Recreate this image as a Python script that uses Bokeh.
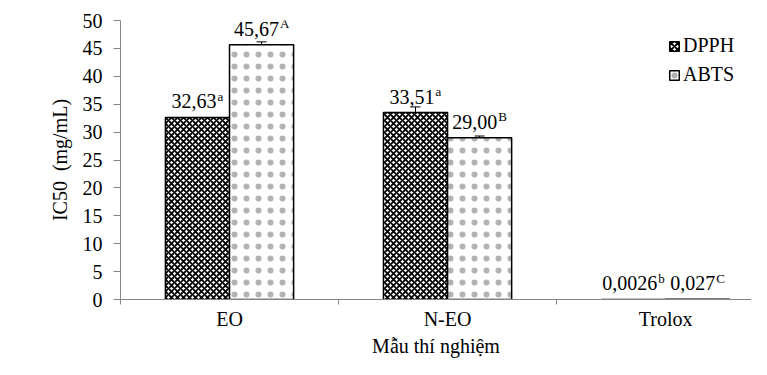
from bokeh.plotting import figure
from bokeh.models import (ColumnDataSource, Range1d, FixedTicker, Whisker, TeeHead,
                          Legend, LegendItem)
from bokeh.core.properties import value
from bokeh.embed import file_html
from bokeh.resources import INLINE

# ---------------- data ----------------
categories = ["EO", "N-EO", "Trolox"]
dpph = [32.63, 33.51, 0.0026]
abts = [45.67, 29.00, 0.027]
dpph_err = [0.0, 1.0, 0.0]
abts_err = [0.5, 0.3, 0.0]
dpph_labels = ["32,63", "33,51", "0,0026"]
dpph_sup = ["a", "a", "b"]
abts_labels = ["45,67", "29,00", "0,027"]
abts_sup = ["A", "B", "C"]
y_ticks = [0, 5, 10, 15, 20, 25, 30, 35, 40, 45, 50]
series_names = ["DPPH", "ABTS"]

FONT = "'Liberation Serif', 'Times New Roman', serif"
AXIS_COLOR = "#868686"

# ---------------- figure ----------------
p = figure(width=751, height=359, output_backend="svg", toolbar_location=None,
           x_range=Range1d(0, 2.894), y_range=Range1d(0, 50),
           min_border_left=120, min_border_right=0, min_border_top=20, min_border_bottom=57)
p.outline_line_color = None
p.xgrid.visible = False
p.ygrid.visible = False
p.background_fill_color = "white"

bw = 0.294
n = len(categories)
x_d = [i + 0.5 - bw / 2 for i in range(n)]
x_a = [i + 0.5 + bw / 2 for i in range(n)]

src_d = ColumnDataSource(dict(x=x_d, top=dpph))
src_a = ColumnDataSource(dict(x=x_a, top=abts))

r_d = p.vbar(x="x", top="top", width=bw, source=src_d, fill_color="white",
             line_color="black", line_width=1.5,
             hatch_pattern="diagonal_cross", hatch_scale=6, hatch_weight=1.9,
             hatch_color="black")
r_a = p.vbar(x="x", top="top", width=bw, source=src_a, fill_color="white",
             line_color="black", line_width=1.5,
             hatch_pattern="dot", hatch_scale=12, hatch_weight=1,
             hatch_color="black", hatch_alpha=0.3)

# error bars
for xs, vals, errs in ((x_d, dpph, dpph_err), (x_a, abts, abts_err)):
    ex = [xx for xx, e in zip(xs, errs) if e > 0]
    up = [v + e for v, e in zip(vals, errs) if e > 0]
    lo = [v - e for v, e in zip(vals, errs) if e > 0]
    es = ColumnDataSource(dict(base=ex, upper=up, lower=lo))
    w = Whisker(base="base", upper="upper", lower="lower", source=es, dimension="height",
                line_color="black", line_width=1,
                upper_head=TeeHead(size=10, line_color="black", line_width=1),
                lower_head=TeeHead(size=10, line_color="black", line_width=1))
    p.add_layout(w)

# data labels with superscripts
em = {",": 0.25, "a": 0.444, "b": 0.5, "A": 0.722, "B": 0.667, "C": 0.667}
def tw(s, size):
    return sum(em.get(c, 0.5) for c in s) * size

MAIN, SUP = 20, 13
for xs, vals, labs, sups in ((x_d, dpph, dpph_labels, dpph_sup), (x_a, abts, abts_labels, abts_sup)):
    mw = [tw(l, MAIN) for l in labs]
    sw = [tw(s, SUP) for s in sups]
    left = [-(m + s + 1) / 2 for m, s in zip(mw, sw)]
    ls = ColumnDataSource(dict(x=xs, y=vals, t=labs, s=sups, xo=left,
                               xs=[l + m + 1 for l, m in zip(left, mw)]))
    p.text(x="x", y="y", text="t", x_offset="xo", y_offset=-16, source=ls,
           text_align="left", text_baseline="alphabetic", text_font=value(FONT),
           text_font_size=f"{MAIN}px", text_color="black")
    p.text(x="x", y="y", text="s", x_offset="xs", y_offset=-21, source=ls,
           text_align="left", text_baseline="alphabetic", text_font=value(FONT),
           text_font_size=f"{SUP}px", text_color="black")

# axes
for ax in (p.xaxis[0], p.yaxis[0]):
    ax.axis_line_color = AXIS_COLOR
    ax.axis_line_width = 1
    ax.major_label_text_font = FONT
    ax.major_label_text_font_size = "20px"
    ax.major_label_text_color = "black"
    ax.axis_label_text_font = FONT
    ax.axis_label_text_font_size = "20px"
    ax.axis_label_text_font_style = "normal"
    ax.axis_label_text_color = "black"

p.yaxis.ticker = FixedTicker(ticks=y_ticks)
p.yaxis.major_tick_out = 7
p.yaxis.major_tick_in = 0
p.yaxis.major_tick_line_color = AXIS_COLOR
p.yaxis.minor_tick_line_color = None
p.yaxis.major_label_standoff = 11
p.yaxis.axis_label = "IC50\u00a0 (mg/mL)"
p.yaxis.axis_label_standoff = 9

centers = [i + 0.5 for i in range(n)]
p.xaxis.ticker = FixedTicker(ticks=centers, minor_ticks=list(range(n + 1)))
p.xaxis.major_label_overrides = {c: name for c, name in zip(centers, categories)}
p.xaxis.major_tick_line_color = None
p.xaxis.major_tick_out = 0
p.xaxis.major_tick_in = 0
p.xaxis.minor_tick_out = 5
p.xaxis.minor_tick_in = 0
p.xaxis.minor_tick_line_color = AXIS_COLOR
p.xaxis.major_label_standoff = 3
p.xaxis.axis_label = "Mẫu thí nghiệm"
p.xaxis.axis_label_standoff = 2

legend = Legend(items=[LegendItem(label=series_names[0], renderers=[r_d]),
                       LegendItem(label=series_names[1], renderers=[r_a])],
                location=(548, 213), orientation="vertical",
                glyph_width=12, glyph_height=12, label_standoff=3,
                label_height=20, spacing=6, padding=0, margin=0,
                border_line_color=None, background_fill_alpha=0,
                label_text_font=FONT, label_text_font_size="20px", label_text_color="black")
p.add_layout(legend)

open("out.html", "w").write(file_html(p, INLINE))
